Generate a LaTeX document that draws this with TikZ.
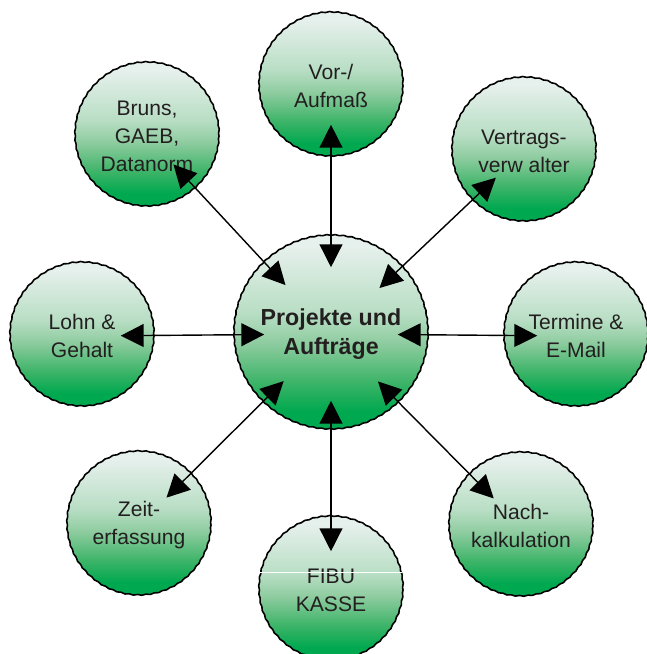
\documentclass[tikz,border=0pt]{standalone}
\usepackage{fontspec}
\setmainfont{Liberation Sans}
\usetikzlibrary{
		arrows.meta,
		decorations.pathmorphing
	}
\definecolor{ball-top}{HTML}{E6F0EC}
\definecolor{ball-upper}{HTML}{B8DEC4}
\definecolor{ball-middle}{HTML}{8FCCA0}
\definecolor{ball-lower}{HTML}{3DB468}
\definecolor{ball-bottom}{HTML}{00A84F}
\definecolor{ink}{HTML}{231F20}
\pgfdeclareverticalshading{ballshading}{100bp}{%
		color(0bp)=(ball-bottom);
		color(30bp)=(ball-bottom);
		color(37.5bp)=(ball-lower);
		color(47.5bp)=(ball-middle);
		color(55bp)=(ball-upper);
		color(72bp)=(ball-top);
		color(100bp)=(ball-top)
	}
\tikzset{%
		every text node part/.style = {
			align = center
		},
		ball/.style = {
			circle,
			draw = black,
			line width = 0.45pt,
			shade,
			shading = ballshading,
			inner sep = 0pt,
			minimum size = 1.44cm,
			text = ink,
			font = \fontsize{6}{8}\selectfont,
			decorate,
			decoration = {snake, segment length=2.4pt, amplitude=0.12pt}
		},
		hub/.style = {
			ball,
			minimum size = 1.94cm,
			font = \fontsize{6.6}{8.3}\selectfont\bfseries
		},
		link/.style = {
			{Triangle[length=6.5pt,width=6.5pt]}-{Triangle[length=6.5pt,width=6.5pt]},
			line width = 0.4pt,
			shorten <= -0.31cm,
			shorten >= -0.34cm
		}
	}

\begin{document}
\begin{tikzpicture}
		\useasboundingbox (0, 0) rectangle (6.47, -6.54);
		\node [hub] (hub) at (3.31, -3.34) {Projekte und\\Aufträge};
		\node [ball] (vor) at (3.31, -0.86) {Vor-/\\Aufmaß};
		\node [ball] (bruns) at (1.47, -1.36) {Bruns,\\GAEB,\\Datanorm};
		\node [ball] (vertrag) at (5.24, -1.51) {Vertrags-\\verw alter};
		\node [ball] (lohn) at (0.82, -3.36) {Lohn \&\\Gehalt};
		\node [ball] (termine) at (5.76, -3.36) {Termine \&\\E-Mail};
		\node [ball] (zeit) at (1.39, -5.25) {Zeit-\\erfassung};
		\node [ball] (nach) at (5.21, -5.26) {Nach-\\kalkulation};
		\node [ball] (fibu) at (3.31, -5.90) {FIBU\\KASSE};
		\draw [white, line width=0.3pt] (fibu.166) -- (fibu.14);
		% connectors, hub first
		\foreach \target in {vor, bruns, vertrag, lohn, termine, zeit, nach, fibu}
			\draw [link] (hub) -- (\target);
	\end{tikzpicture}
\end{document}
